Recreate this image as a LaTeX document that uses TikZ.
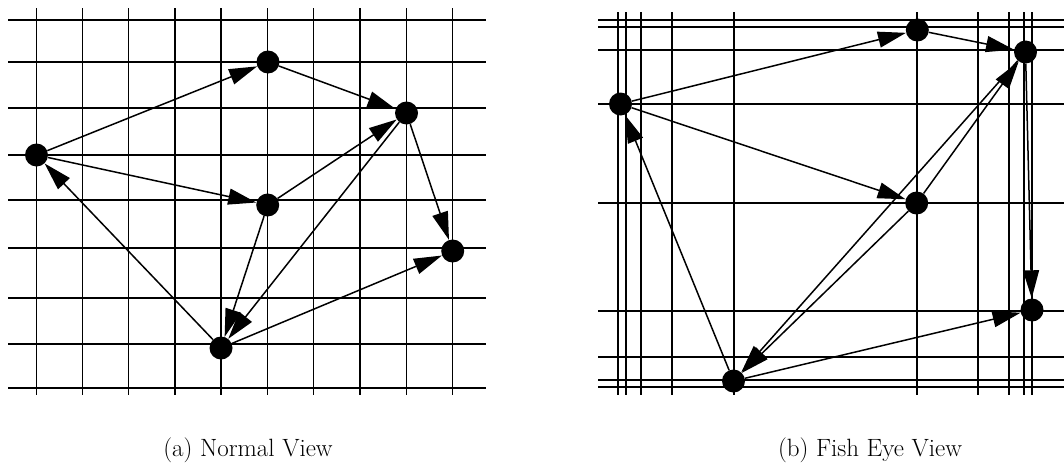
\documentclass[tikz,border=0pt]{standalone}
\usetikzlibrary{arrows.meta}
\begin{document}
\begin{tikzpicture}[x=1pt,y=-1pt,
  gridline/.style={line width=1.4pt,black},
  edge/.style={line width=1.5pt,-{Triangle[length=28pt,width=16pt]}},
  vtx/.style={circle,fill=black,inner sep=0pt,minimum size=23pt},
  captext/.style={font=\fontsize{25}{30}\selectfont,anchor=base,inner sep=0pt}]
\useasboundingbox (0,0) rectangle (1064,463);
% ---------- left grid ----------
\foreach \x in {36.3,82.3,128.7,175,221,267.7,313.7,360,406.3,452.7}
  \draw[gridline] (\x,8) -- (\x,395);
\foreach \y in {20,62,108,155,200,248,298,344,388}
  \draw[gridline] (8,\y) -- (486,\y);
% ---------- right grid ----------
\foreach \x in {618,626,641,672,734,917,978,1009,1024,1032}
  \draw[gridline] (\x,12) -- (\x,395);
\foreach \y in {20,27,50,104,203,311,357,380,387}
  \draw[gridline] (598,\y) -- (1064,\y);
% ---------- left nodes ----------
\node[vtx] (a) at (36.5,155) {};
\node[vtx] (b) at (268,62) {};
\node[vtx] (c) at (406.5,113) {};
\node[vtx] (d) at (267.7,205) {};
\node[vtx] (e) at (452.7,251) {};
\node[vtx] (f) at (221,348) {};
% ---------- right nodes ----------
\node[vtx] (a2) at (620.5,104) {};
\node[vtx] (b2) at (917.3,30) {};
\node[vtx] (c2) at (1025.5,52) {};
\node[vtx] (d2) at (916.7,203) {};
\node[vtx] (e2) at (1032,310) {};
\node[vtx] (f2) at (733.5,381) {};
% ---------- left edges ----------
\draw[edge] (a) -- (b);
\draw[edge] (b) -- (c);
\draw[edge] (a) -- (d);
\draw[edge] (d) -- (c);
\draw[edge] (c) -- (e);
\draw[edge] (f) -- (a);
\draw[edge] (d) -- (f);
\draw[edge] (c) -- (f);
\draw[edge] (f) -- (e);
% ---------- right edges ----------
\draw[edge] (a2) -- (b2);
\draw[edge] (b2) -- (c2);
\draw[edge] (a2) -- (d2);
\draw[edge] (d2) -- (c2);
\draw[edge] (c2) -- (e2);
\draw[edge] (f2) -- (a2);
\draw[edge] (d2) -- (f2);
\draw[edge] (c2) -- (f2);
\draw[edge] (f2) -- (e2);
% ---------- captions ----------
\node[captext] (capa) at (248,456) {(a) Normal View};
\node[captext] (capb) at (870,456) {(b) Fish Eye View};
\end{tikzpicture}
\end{document}
